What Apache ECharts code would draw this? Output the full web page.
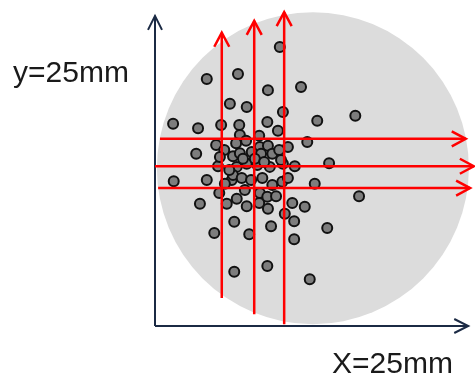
<!DOCTYPE html>
<html>
<head>
<meta charset="utf-8">
<script src="https://cdn.jsdelivr.net/npm/echarts@6/dist/echarts.min.js"></script>
<style>html,body{margin:0;padding:0;background:#fff;}#c{width:475px;height:378px;}</style>
</head>
<body>
<div id="c"></div>
<script>
// ---- data (mm) ----
const xLabel = 'X=25mm';
const yLabel = 'y=25mm';
const axisMax = 50;
const circleCenter = [25.3, 25.3];
const circleRadius = 25;
const pointsX = [20.0, 8.3, 13.3, 18.1, 23.4, 12.0, 14.7, 20.5, 2.9, 6.9, 10.6, 13.5, 18.0, 19.7, 26.0, 32.1, 24.4, 27.9, 25.6, 32.7, 24.0, 22.0, 27.6, 22.3, 20.8, 22.3, 24.8, 18.0, 12.7, 9.5, 15.1, 18.6, 12.7, 7.2, 3.0, 8.3, 6.6, 9.8, 13.6, 16.7, 13.0, 14.6, 16.8, 18.1, 21.3, 11.1, 12.5, 13.6, 15.5, 17.0, 18.8, 19.9, 10.1, 13.1, 14.7, 16.4, 18.4, 20.5, 22.4, 14.1, 16.0, 17.5, 20.2, 10.4, 12.3, 11.2, 12.5, 13.9, 15.4, 17.2, 18.8, 20.4, 21.3, 14.4, 16.8, 10.3, 11.5, 13.1, 14.7, 16.7, 18.1, 18.0, 11.9, 19.4];
const pointsY = [44.7, 39.6, 40.4, 37.8, 38.3, 35.6, 35.1, 34.3, 32.4, 31.7, 32.2, 32.2, 32.7, 31.3, 32.9, 33.7, 29.5, 26.1, 22.8, 20.8, 19.1, 19.7, 15.7, 16.8, 18.0, 13.9, 7.5, 9.6, 8.7, 14.9, 14.7, 16.0, 16.7, 19.6, 23.2, 23.4, 27.6, 29.0, 30.6, 30.5, 29.3, 29.7, 28.7, 28.9, 28.7, 28.2, 27.2, 27.7, 27.9, 27.6, 27.6, 28.2, 25.6, 25.5, 26.0, 25.8, 25.5, 26.0, 25.6, 26.8, 26.8, 26.3, 26.6, 27.1, 23.4, 22.8, 24.2, 23.7, 23.4, 23.7, 22.6, 23.1, 23.7, 21.8, 21.3, 21.3, 19.6, 20.4, 19.2, 19.7, 18.8, 20.7, 25.0, 20.8];
// red scan lines
const vLineX = [10.7, 15.9, 20.7];
const vLineYStart = [4.5, 1.9, 0.3];
const vLineYEnd = [47.0, 48.9, 50.3];
const hLineY = [30.0, 25.6, 22.1];
const hLineXStart = [0.8, 0.0, 0.5];
const hLineXEnd = [49.8, 51.1, 50.5];
// axes (arrow ends)
const axisXEnd = 50.2;
const axisYEnd = 49.7;

// ---- build ----
const scatterData = pointsX.map((x, i) => [x, pointsY[i]]);
const redData = [];
vLineX.forEach((x, i) => redData.push([x, vLineYStart[i], x, vLineYEnd[i]]));
hLineY.forEach((y, i) => redData.push([hLineXStart[i], y, hLineXEnd[i], y]));
const axisData = [[0, 0, axisXEnd, 0], [0, 0, 0, axisYEnd]];

function arrowRenderer(color, width, head, halfW) {
  return function (params, api) {
    const p1 = api.coord([api.value(0), api.value(1)]);
    const p2 = api.coord([api.value(2), api.value(3)]);
    const dx = p2[0] - p1[0], dy = p2[1] - p1[1];
    const len = Math.hypot(dx, dy) || 1;
    const ux = dx / len, uy = dy / len;
    const bx = p2[0] - ux * head, by = p2[1] - uy * head;
    const nx = -uy, ny = ux;
    return {
      type: 'group',
      children: [
        { type: 'line', shape: { x1: p1[0], y1: p1[1], x2: p2[0], y2: p2[1] },
          style: { stroke: color, lineWidth: width } },
        { type: 'polyline', shape: { points: [[bx + nx * halfW, by + ny * halfW], [p2[0], p2[1]], [bx - nx * halfW, by - ny * halfW]] },
          style: { stroke: color, lineWidth: width, fill: null } }
      ]
    };
  };
}

const chart = echarts.init(document.getElementById('c'), null, { renderer: 'canvas' });
chart.setOption({
  animation: false,
  backgroundColor: '#ffffff',
  grid: { left: 155, top: 14, width: 312, height: 312, containLabel: false },
  xAxis: { type: 'value', min: 0, max: axisMax, show: false },
  yAxis: { type: 'value', min: 0, max: axisMax, show: false },
  graphic: [
    { type: 'text', left: 13, top: 59, style: { text: yLabel, font: '30px "Liberation Sans", Arial, sans-serif', fill: '#1a1a1a' } },
    { type: 'text', left: 332, top: 350, style: { text: xLabel, font: '30px "Liberation Sans", Arial, sans-serif', fill: '#1a1a1a' } }
  ],
  series: [
    {
      type: 'custom', z: 1, silent: true,
      data: [[circleCenter[0], circleCenter[1], circleRadius]],
      renderItem: function (params, api) {
        const c = api.coord([api.value(0), api.value(1)]);
        const r = api.size([api.value(2), 0])[0];
        return { type: 'circle', shape: { cx: c[0], cy: c[1], r: r }, style: { fill: '#dcdcdc' } };
      }
    },
    {
      type: 'custom', z: 2, silent: true,
      data: axisData,
      renderItem: arrowRenderer('#1b2a44', 2, 14, 7)
    },
    {
      type: 'scatter', z: 3,
      data: scatterData,
      symbol: 'circle', symbolSize: 10,
      itemStyle: { color: '#7d7d7d', borderColor: '#111111', borderWidth: 2, opacity: 1 }
    },
    {
      type: 'custom', z: 4, silent: true,
      data: redData,
      renderItem: arrowRenderer('#ff0000', 2.5, 14, 7.5)
    }
  ]
});
</script>
</body>
</html>
